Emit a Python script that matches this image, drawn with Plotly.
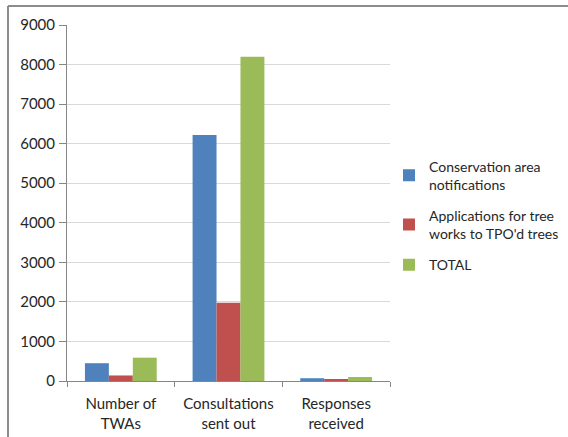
import plotly.graph_objects as go

# Category labels along the x axis
categories = ["Number of<br>TWAs", "Consultations<br>sent out", "Responses<br>received"]

# Series values
conservation = [450, 6220, 70]
tpo_applications = [140, 1980, 30]
total = [590, 8200, 100]

series_names = [
    "Conservation area<br>notifications",
    "Applications for tree<br>works to TPO'd trees",
    "TOTAL",
]
series_colors = ["#4F81BD", "#C0504D", "#9BBB59"]

y_ticks = [0, 1000, 2000, 3000, 4000, 5000, 6000, 7000, 8000, 9000]

W, H = 568, 437
ML, MR, MT, MB = 67, 178, 25, 56
plot_w = W - ML - MR
plot_h = H - MT - MB

fig = go.Figure()
for i, (name, vals, col) in enumerate(zip(series_names, [conservation, tpo_applications, total], series_colors)):
    fig.add_trace(go.Bar(x=categories, y=vals, name=name, legendgroup=f"g{i}",
                         marker=dict(color=col, line=dict(width=0))))

font_family = "Lato, 'Open Sans', sans-serif"
text_color = "#262626"

fig.update_layout(
    width=W,
    height=H,
    margin=dict(l=ML, r=MR, t=MT, b=MB, pad=0, autoexpand=False),
    paper_bgcolor="white",
    plot_bgcolor="white",
    barmode="group",
    bargap=0.333,
    bargroupgap=0,
    font=dict(family=font_family, size=15, color=text_color),
    legend=dict(
        x=(389 - ML) / plot_w,
        xanchor="left",
        y=0.465,
        yanchor="middle",
        font=dict(family=font_family, size=14, color=text_color),
        bgcolor="rgba(0,0,0,0)",
        itemwidth=30,
        tracegroupgap=10,
    ),
    xaxis=dict(
        type="category",
        showline=True,
        linecolor="#868686",
        linewidth=1,
        ticks="outside",
        tickson="boundaries",
        ticklen=5,
        tickcolor="#868686",
        showgrid=False,
        tickangle=0,
        tickfont=dict(family=font_family, size=15, color=text_color),
        ticklabelstandoff=9,
        automargin=False,
        fixedrange=True,
    ),
    yaxis=dict(
        range=[0, 9000],
        tickvals=y_ticks,
        showline=True,
        linecolor="#868686",
        linewidth=1,
        ticks="outside",
        ticklen=7,
        tickcolor="#868686",
        showgrid=True,
        gridcolor="#D9D9D9",
        gridwidth=1,
        zeroline=False,
        tickfont=dict(family=font_family, size=15, color=text_color),
        ticklabelstandoff=1,
        automargin=False,
        fixedrange=True,
    ),
    shapes=[
        # frame around the chart (top and left edges)
        dict(type="line", xref="paper", yref="paper",
             x0=(8 - ML) / plot_w, x1=(W - ML) / plot_w,
             y0=(H - MB - 6) / plot_h, y1=(H - MB - 6) / plot_h,
             line=dict(color="#8C8C8C", width=2)),
        dict(type="line", xref="paper", yref="paper",
             x0=(8 - ML) / plot_w, x1=(8 - ML) / plot_w,
             y0=(H - MB - 6) / plot_h, y1=-MB / plot_h,
             line=dict(color="#8C8C8C", width=2)),
    ],
)

fig.write_html("out.html", config={"displayModeBar": False})
